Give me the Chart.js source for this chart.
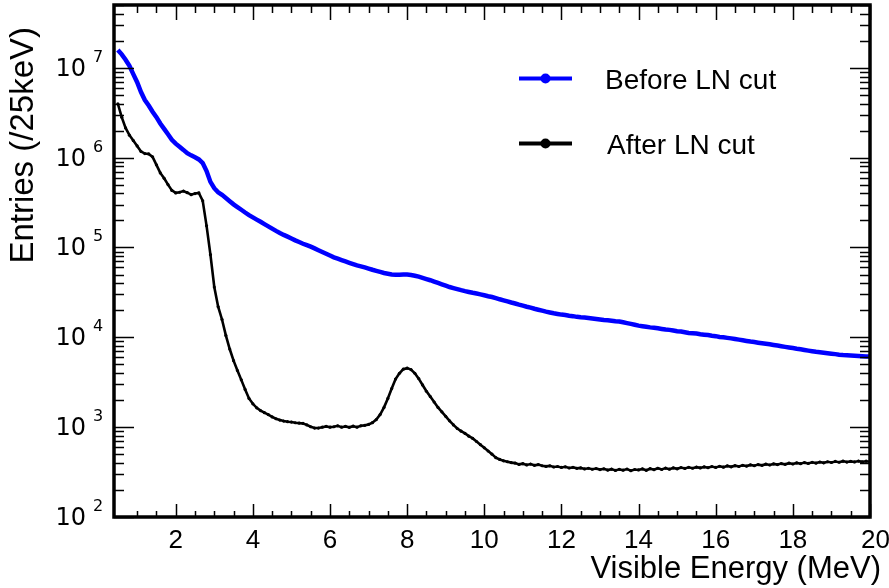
<html>
<head>
<meta charset="UTF-8">
<title>Visible Energy spectrum before and after LN cut</title>
<script src="https://cdn.jsdelivr.net/npm/chart.js@4.4.0/dist/chart.umd.min.js"></script>
<style>
  body { margin: 0; background: #fff; }
</style>
</head>
<body>
<canvas id="myChart" width="889" height="588"></canvas>
<script>
// bin energies (MeV)
var energy = [
  0.5,0.6,0.7,0.8,0.9,1.0,1.1,1.2,1.3,1.4,
  1.5,1.6,1.7,1.8,1.9,2.0,2.1,2.2,2.3,2.4,
  2.5,2.6,2.7,2.8,2.9,3.0,3.1,3.2,3.3,3.4,
  3.5,3.6,3.7,3.8,3.9,4.0,4.1,4.2,4.3,4.4,
  4.5,4.6,4.7,4.8,4.9,5.0,5.1,5.2,5.3,5.4,
  5.5,5.6,5.7,5.8,5.9,6.0,6.1,6.2,6.3,6.4,
  6.5,6.6,6.7,6.8,6.9,7.0,7.1,7.2,7.3,7.4,
  7.5,7.6,7.7,7.8,7.9,8.0,8.1,8.2,8.3,8.4,
  8.5,8.6,8.7,8.8,8.9,9.0,9.1,9.2,9.3,9.4,
  9.5,9.6,9.7,9.8,9.9,10.0,10.1,10.2,10.3,10.4,
  10.5,10.6,10.7,10.8,10.9,11.0,11.1,11.2,11.3,11.4,
  11.5,11.6,11.7,11.8,11.9,12.0,12.1,12.2,12.3,12.4,
  12.5,12.6,12.7,12.8,12.9,13.0,13.1,13.2,13.3,13.4,
  13.5,13.6,13.7,13.8,13.9,14.0,14.1,14.2,14.3,14.4,
  14.5,14.6,14.7,14.8,14.9,15.0,15.1,15.2,15.3,15.4,
  15.5,15.6,15.7,15.8,15.9,16.0,16.1,16.2,16.3,16.4,
  16.5,16.6,16.7,16.8,16.9,17.0,17.1,17.2,17.3,17.4,
  17.5,17.6,17.7,17.8,17.9,18.0,18.1,18.2,18.3,18.4,
  18.5,18.6,18.7,18.8,18.9,19.0,19.1,19.2,19.3,19.4,
  19.5,19.6,19.7,19.8,19.9,20.0
];

// entries per 25 keV, before the LN cut
var beforeCut = [
  1.58e7,1.41e7,1.23e7,1.05e7,8.51e6,6.92e6,5.37e6,4.37e6,3.80e6,3.24e6,
  2.82e6,2.40e6,2.09e6,1.82e6,1.58e6,1.43e6,1.32e6,1.22e6,1.12e6,1.06e6,
  1.01e6,9.55e5,8.71e5,7.08e5,5.37e5,4.57e5,4.12e5,3.85e5,3.55e5,3.27e5,
  3.02e5,2.82e5,2.63e5,2.45e5,2.29e5,2.16e5,2.04e5,1.93e5,1.82e5,1.72e5,
  1.62e5,1.53e5,1.45e5,1.38e5,1.32e5,1.26e5,1.20e5,1.15e5,1.10e5,1.06e5,
  1.02e5,9.77e4,9.33e4,8.91e4,8.51e4,8.13e4,7.76e4,7.50e4,7.24e4,7.00e4,
  6.76e4,6.53e4,6.31e4,6.17e4,6.00e4,5.83e4,5.65e4,5.50e4,5.35e4,5.20e4,
  5.11e4,5.01e4,4.98e4,4.97e4,4.99e4,4.99e4,4.94e4,4.85e4,4.73e4,4.59e4,
  4.45e4,4.32e4,4.17e4,4.03e4,3.89e4,3.76e4,3.63e4,3.53e4,3.44e4,3.35e4,
  3.27e4,3.20e4,3.13e4,3.07e4,3.01e4,2.94e4,2.87e4,2.81e4,2.73e4,2.65e4,
  2.58e4,2.51e4,2.44e4,2.38e4,2.31e4,2.25e4,2.19e4,2.14e4,2.08e4,2.03e4,
  1.98e4,1.93e4,1.89e4,1.85e4,1.82e4,1.79e4,1.77e4,1.74e4,1.72e4,1.69e4,
  1.67e4,1.66e4,1.64e4,1.62e4,1.60e4,1.58e4,1.56e4,1.55e4,1.53e4,1.51e4,
  1.50e4,1.47e4,1.44e4,1.41e4,1.38e4,1.35e4,1.33e4,1.31e4,1.29e4,1.28e4,
  1.26e4,1.24e4,1.22e4,1.21e4,1.19e4,1.17e4,1.16e4,1.14e4,1.12e4,1.11e4,
  1.10e4,1.08e4,1.07e4,1.06e4,1.04e4,1.03e4,1.01e4,1.00e4,9.86e3,9.73e3,
  9.57e3,9.42e3,9.27e3,9.12e3,8.97e3,8.85e3,8.71e3,8.59e3,8.47e3,8.36e3,
  8.22e3,8.09e3,7.96e3,7.83e3,7.71e3,7.59e3,7.46e3,7.35e3,7.23e3,7.11e3,
  7.00e3,6.90e3,6.82e3,6.73e3,6.65e3,6.58e3,6.50e3,6.41e3,6.35e3,6.31e3,
  6.27e3,6.22e3,6.18e3,6.15e3,6.12e3,6.11e3
];

// entries per 25 keV, after the LN cut
var afterCut = [
  3.98e6,2.82e6,2.14e6,1.78e6,1.55e6,1.35e6,1.17e6,1.11e6,1.10e6,1.02e6,
  8.32e5,6.76e5,5.89e5,5.01e5,4.32e5,4.05e5,4.12e5,4.24e5,4.07e5,3.87e5,
  3.98e5,4.05e5,3.31e5,1.74e5,8.32e4,3.63e4,2.19e4,1.58e4,1.05e4,7.41e3,
  5500,4270,3360,2630,2090,1820,1640,1530,1450,1380,
  1300,1240,1200,1170,1150,1140,1120,1110,1100,1060,
  1010,977,977,1000,1020,1000,1010,1035,1000,1020,
  995,1025,1000,1035,1047,1072,1122,1216,1380,1660,
  2090,2690,3430,3980,4420,4540,4370,3980,3470,2950,
  2510,2190,1905,1660,1480,1320,1175,1060,966,902,
  851,794,750,692,638,589,543,501,457,437,
  422,412,403,398,385,392,380,388,376,383,
  372,366,371,360,365,356,362,351,357,348,
  352,343,349,340,346,337,344,333,341,330,
  339,332,342,328,338,334,343,331,345,336,
  349,338,350,341,352,344,355,347,357,349,
  359,352,361,354,364,356,367,359,370,362,
  373,365,376,369,380,372,383,376,387,379,
  390,383,393,386,397,389,400,392,403,395,
  406,398,409,401,412,404,415,407,418,409,
  416,410,419,411,418,412
];

var xTickLabels = [2, 4, 6, 8, 10, 12, 14, 16, 18, 20];
var yTickPowers = [2, 3, 4, 5, 6, 7];

function points(vals) {
  return energy.map(function(e, i) { return { x: e, y: vals[i] }; });
}

// ROOT-like frame: thick box, inward ticks on all four sides, labels, titles, legend
var rootFrame = {
  id: 'rootFrame',
  afterDatasetsDraw: function(chart) {
    var ctx = chart.ctx;
    var a = chart.chartArea;
    var xs = chart.scales.x, ys = chart.scales.y;
    ctx.save();
    ctx.strokeStyle = '#000';
    ctx.fillStyle = '#000';

    // x ticks every 0.5 MeV, long ones every 2 MeV
    ctx.lineWidth = 1.5;
    for (var k = 1; k <= 40; k++) {
      var v = k * 0.5;
      if (v <= xs.min + 0.2) continue;
      var px = Math.round(xs.getPixelForValue(v)) + 0.5;
      var len = (k % 4 === 0) ? 13 : 6;
      ctx.beginPath();
      ctx.moveTo(px, a.bottom); ctx.lineTo(px, a.bottom - len);
      ctx.moveTo(px, a.top); ctx.lineTo(px, a.top + (k % 4 === 0 ? 15 : 8));
      ctx.stroke();
    }

    // y ticks: decades long, 2..9 short
    for (var p = 2; p <= 7; p++) {
      for (var m = 1; m <= 9; m++) {
        var val = m * Math.pow(10, p);
        if (val < ys.min || val > ys.max) continue;
        var py = Math.round(ys.getPixelForValue(val)) + 0.5;
        var l = (m === 1) ? 20 : 10;
        ctx.beginPath();
        ctx.moveTo(a.left, py); ctx.lineTo(a.left + l, py);
        ctx.moveTo(a.right, py); ctx.lineTo(a.right - l, py);
        ctx.stroke();
      }
    }

    // frame
    ctx.lineWidth = 3.5;
    ctx.strokeRect(a.left, a.top, a.right - a.left, a.bottom - a.top);

    // x tick labels (the last one sits right of its tick, as in the original)
    ctx.font = '26px "Liberation Sans", Arial, sans-serif';
    ctx.textBaseline = 'alphabetic';
    xTickLabels.forEach(function(t, i) {
      var px = xs.getPixelForValue(t);
      if (i === xTickLabels.length - 1) {
        ctx.textAlign = 'left';
        ctx.fillText(String(t), px - 9, 548);
      } else {
        ctx.textAlign = 'center';
        ctx.fillText(String(t), px, 548);
      }
    });

    // y tick labels 10^n
    yTickPowers.forEach(function(n) {
      var py = ys.getPixelForValue(Math.pow(10, n));
      ctx.font = '24px "DejaVu Sans", sans-serif';
      ctx.textAlign = 'right';
      ctx.fillText('10', 86, py + 8);
      ctx.font = '16px "DejaVu Sans", sans-serif';
      ctx.textAlign = 'left';
      ctx.fillText(String(n), 93, py - 6);
    });

    // axis titles
    ctx.font = '31px "Liberation Sans", Arial, sans-serif';
    ctx.textAlign = 'right';
    ctx.fillText('Visible Energy (MeV)', 881, 578);
    ctx.save();
    ctx.font = '33px "Liberation Sans", Arial, sans-serif';
    ctx.translate(33, 27);
    ctx.rotate(-Math.PI / 2);
    ctx.fillText('Entries (/25keV)', 0, 0);
    ctx.restore();

    // legend
    var rows = [{ ds: chart.data.datasets[0], y: 78.5, tx: 605 },
                { ds: chart.data.datasets[1], y: 143.5, tx: 607 }];
    ctx.font = '28px "Liberation Sans", Arial, sans-serif';
    ctx.textAlign = 'left';
    rows.forEach(function(r) {
      ctx.strokeStyle = r.ds.legendColor;
      ctx.fillStyle = r.ds.legendColor;
      ctx.lineWidth = 4;
      ctx.beginPath();
      ctx.moveTo(519, r.y); ctx.lineTo(572, r.y);
      ctx.stroke();
      ctx.beginPath();
      ctx.arc(545.5, r.y, 5, 0, Math.PI * 2);
      ctx.fill();
      ctx.fillStyle = '#000';
      ctx.fillText(r.ds.label, r.tx, r.y + 10);
    });
    ctx.restore();
  }
};

var ctx = document.getElementById('myChart').getContext('2d');
var myChart = new Chart(ctx, {
  type: 'line',
  data: {
    datasets: [{
      label: 'Before LN cut',
      data: points(beforeCut),
      legendColor: '#0000ff',
      borderColor: '#0000ff',
      borderWidth: 4.5,
      pointRadius: 0,
      fill: false,
      tension: 0
    }, {
      label: 'After LN cut',
      data: points(afterCut),
      legendColor: '#000000',
      borderColor: '#000000',
      backgroundColor: '#000000',
      borderWidth: 2.6,
      pointRadius: 1.6,
      pointBorderWidth: 0,
      fill: false,
      tension: 0
    }]
  },
  options: {
    responsive: false,
    animation: false,
    events: [],
    layout: { padding: { left: 0, top: 5, right: 19, bottom: 0 } },
    plugins: { legend: { display: false }, tooltip: { enabled: false } },
    scales: {
      x: {
        type: 'linear', min: 0.4, max: 20,
        grid: { display: false }, border: { display: false },
        ticks: { display: false },
        afterFit: function(s) { s.height = 71; }
      },
      y: {
        type: 'logarithmic', min: 100, max: 5e7,
        grid: { display: false }, border: { display: false },
        ticks: { display: false },
        afterFit: function(s) { s.width = 114; }
      }
    }
  },
  plugins: [rootFrame]
});
</script>
</body>
</html>
